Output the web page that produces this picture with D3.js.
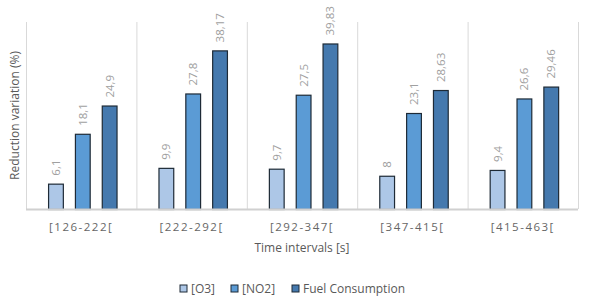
<!DOCTYPE html>
<html>
<head>
<meta charset="utf-8">
<script src="https://cdn.jsdelivr.net/npm/d3@7"></script>
<style>
  body { margin: 0; background: #fff; }
  text { font-family: "Open Sans", "Noto Sans", sans-serif; }
</style>
</head>
<body>
<svg id="chart" width="590" height="303"></svg>
<script>
const categorias = ["[126-222[", "[222-292[", "[292-347[", "[347-415[", "[415-463["];
const series = ["[O3]", "[NO2]", "Fuel Consumption"];
const o3 = [6.1, 9.9, 9.7, 8, 9.4];
const no2 = [18.1, 27.8, 27.5, 23.1, 26.6];
const fuel = [24.9, 38.17, 39.83, 28.63, 29.46];
const valores = [o3, no2, fuel];
const colores = ["#adc7e7", "#5b9bd5", "#4579ae"];

const svg = d3.select("#chart");
const margen = { left: 26, right: 12, top: 22, bottom: 94 };
const width = +svg.attr("width");
const height = +svg.attr("height");

const x = d3.scaleBand()
  .domain(categorias)
  .range([margen.left, width - margen.right]);

const xs = d3.scaleBand()
  .domain(series)
  .range([x.bandwidth() * 0.2, x.bandwidth() * 0.82])
  .paddingInner(0.45)
  .paddingOuter(0);

const y = d3.scaleLinear()
  .domain([0, 45])
  .range([height - margen.bottom, margen.top]);

// lineas verticales entre categorias
const bordes = categorias.map(c => x(c)).concat([x.range()[1]]);
svg.selectAll("line.grid")
  .data(bordes)
  .enter()
  .append("line")
  .attr("class", "grid")
  .attr("x1", d => d + 0.5)
  .attr("x2", d => d + 0.5)
  .attr("y1", margen.top)
  .attr("y2", y(0))
  .attr("stroke", "#d9d9d9")
  .attr("stroke-width", 1);

const grupos = svg.selectAll("g.cat")
  .data(categorias)
  .enter()
  .append("g")
  .attr("class", "cat")
  .attr("transform", c => `translate(${x(c)},0)`);

grupos.selectAll("rect")
  .data((c, i) => series.map((s, j) => ({ s, j, v: valores[j][i] })))
  .enter()
  .append("rect")
  .attr("x", d => xs(d.s) + 0.5)
  .attr("y", d => y(d.v) + 0.5)
  .attr("width", xs.bandwidth())
  .attr("height", d => y(0) - y(d.v))
  .attr("fill", d => colores[d.j])
  .attr("stroke", "#1e2a36")
  .attr("stroke-width", 1.2);

grupos.selectAll("text.val")
  .data((c, i) => series.map((s, j) => ({ s, j, v: valores[j][i] })))
  .enter()
  .append("text")
  .attr("class", "val")
  .attr("transform", d => `translate(${xs(d.s) + xs.bandwidth() / 2 + 4.5},${y(d.v) - 8}) rotate(-90)`)
  .attr("font-size", "11.5px")
  .attr("fill", "#a0a0a0")
  .text(d => String(d.v).replace(".", ","));

// eje x
svg.append("line")
  .attr("x1", margen.left)
  .attr("x2", width - margen.right)
  .attr("y1", y(0) + 0.5)
  .attr("y2", y(0) + 0.5)
  .attr("stroke", "#d0d0d0")
  .attr("stroke-width", 2);

svg.selectAll("text.tick")
  .data(categorias)
  .enter()
  .append("text")
  .attr("class", "tick")
  .attr("x", c => x(c) + x.bandwidth() / 2)
  .attr("y", y(0) + 22)
  .attr("text-anchor", "middle")
  .attr("font-size", "11.5px")
  .attr("letter-spacing", "1.5px")
  .attr("fill", "#666")
  .text(c => c);

svg.append("text")
  .attr("x", (margen.left + width - margen.right) / 2)
  .attr("y", 252)
  .attr("text-anchor", "middle")
  .attr("font-size", "12px")
  .attr("fill", "#595959")
  .text("Time intervals [s]");

svg.append("text")
  .attr("transform", `translate(19,${(margen.top + y(0)) / 2}) rotate(-90)`)
  .attr("text-anchor", "middle")
  .attr("font-size", "12px")
  .attr("fill", "#595959")
  .text("Reduction variation (%)");

// leyenda
const posLeyenda = [180, 231, 292];
const leyenda = svg.selectAll("g.ley")
  .data(series)
  .enter()
  .append("g")
  .attr("class", "ley")
  .attr("transform", (s, i) => `translate(${posLeyenda[i]},285)`);

leyenda.append("rect")
  .attr("width", 7)
  .attr("height", 7)
  .attr("fill", (s, i) => colores[i])
  .attr("stroke", "#1e2a36")
  .attr("stroke-width", 1);

leyenda.append("text")
  .attr("x", 11)
  .attr("y", 8)
  .attr("font-size", "12px")
  .attr("fill", "#595959")
  .text(s => s);
</script>
</body>
</html>
